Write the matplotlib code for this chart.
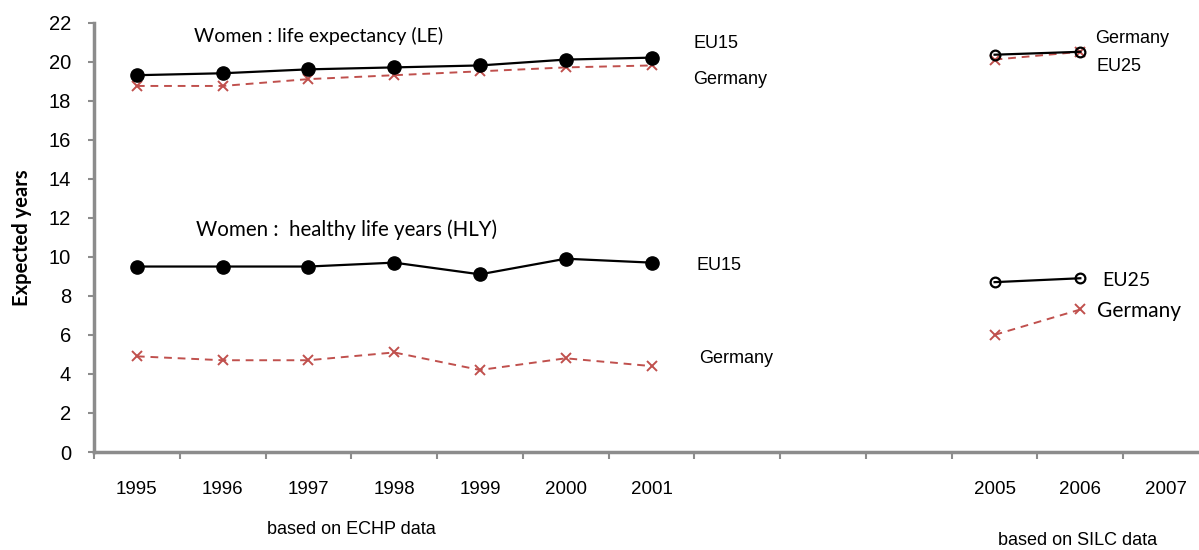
import numpy as np
import matplotlib
matplotlib.use("Agg")
import matplotlib.pyplot as plt
from matplotlib.ticker import FixedLocator

# ---- data ----
years = ['1995', '1996', '1997', '1998', '1999', '2000', '2001',
         '2002', '2003', '2004', '2005', '2006', '2007']
tick_labels = ['1995', '1996', '1997', '1998', '1999', '2000', '2001',
               '', '', '', '2005', '2006', '2007']

echp_years = ['1995', '1996', '1997', '1998', '1999', '2000', '2001']
silc_years = ['2005', '2006']

le_eu15 = [19.3, 19.4, 19.6, 19.7, 19.8, 20.1, 20.2]
le_germany = [18.75, 18.75, 19.1, 19.3, 19.5, 19.7, 19.8]
hly_eu15 = [9.5, 9.5, 9.5, 9.7, 9.1, 9.9, 9.7]
hly_germany = [4.9, 4.7, 4.7, 5.1, 4.2, 4.8, 4.4]

le_eu25 = [20.35, 20.5]
le_germany_silc = [20.1, 20.5]
hly_eu25 = [8.7, 8.9]
hly_germany_silc = [6.0, 7.3]

pos = {y: i for i, y in enumerate(years)}
x_echp = [pos[y] for y in echp_years]
x_silc = [pos[y] for y in silc_years]

RED = '#C0504D'
GREY = '#8C8C8C'
NARROW = ['Liberation Sans Narrow', 'Liberation Sans', 'DejaVu Sans']
CAL = ['Lato', 'DejaVu Sans']

fig = plt.figure(figsize=(11.99, 5.5), dpi=100)
ax = fig.add_axes([94 / 1199, 98 / 550, 1115 / 1199, 429.5 / 550])

# ECHP period
ax.plot(x_echp, le_eu15, color='black', lw=1.6, marker='o', ms=9.5, zorder=3)
ax.plot(x_echp, le_germany, color=RED, lw=1.4, ls=(0, (4, 3)), marker='x',
        ms=7, mew=1.4, zorder=2)
ax.plot(x_echp, hly_eu15, color='black', lw=1.6, marker='o', ms=9.5, zorder=3)
ax.plot(x_echp, hly_germany, color=RED, lw=1.4, ls=(0, (4, 3)), marker='x',
        ms=7, mew=1.4, zorder=2)

# SILC period
ax.plot(x_silc, le_germany_silc, color=RED, lw=1.4, ls=(0, (4, 3)), marker='x',
        ms=7, mew=1.4, zorder=2)
ax.plot(x_silc, le_eu25, color='black', lw=1.6, marker='o', ms=7, mfc='none',
        mew=1.6, zorder=3)
ax.plot(x_silc, hly_eu25, color='black', lw=1.6, marker='o', ms=7, mfc='none',
        mew=1.6, zorder=3)
ax.plot(x_silc, hly_germany_silc, color=RED, lw=1.4, ls=(0, (4, 3)), marker='x',
        ms=7, mew=1.4, zorder=2)

ax.set_xlim(-0.5, len(years) - 0.5)
ax.set_ylim(0, 22)
ax.set_yticks(np.arange(0, 23, 2))

ax.xaxis.set_major_locator(FixedLocator(range(len(years))))
ax.set_xticklabels(tick_labels)
ax.xaxis.set_minor_locator(FixedLocator(np.arange(-0.5, len(years), 1)))
ax.tick_params(axis='x', which='major', length=0, pad=21)
ax.tick_params(axis='x', which='minor', length=5, width=1.5, color=GREY,
               direction='out')
ax.tick_params(axis='y', length=4.5, width=1.5, color=GREY, pad=12)
for lab in ax.get_xticklabels():
    lab.set_family(NARROW)
    lab.set_fontsize(13.5)
for lab in ax.get_yticklabels():
    lab.set_family(NARROW)
    lab.set_fontsize(14.5)

for s in ['top', 'right']:
    ax.spines[s].set_visible(False)
for s in ['left', 'bottom']:
    ax.spines[s].set_color(GREY)
    ax.spines[s].set_linewidth(2.5)

ax.set_ylabel('Expected years', fontsize=14.5, fontweight='bold', family=CAL,
              labelpad=12)

# annotations
ax.text(0.67, 21.3, 'Women : life expectancy (LE)', fontsize=14, family=CAL,
        va='center')
ax.text(0.69, 11.4, 'Women :  healthy life years (HLY)', fontsize=14.8,
        family=CAL, va='center')
ax.text(6.49, 20.9, 'EU15', fontsize=13, family=NARROW, va='center')
ax.text(6.49, 19.1, 'Germany', fontsize=13, family=NARROW, va='center')
ax.text(6.52, 9.55, 'EU15', fontsize=13, family=NARROW, va='center')
ax.text(6.56, 4.8, 'Germany', fontsize=13, family=NARROW, va='center')
ax.text(11.17, 21.2, 'Germany', fontsize=13, family=NARROW, va='center')
ax.text(11.19, 19.75, 'EU25', fontsize=13, family=NARROW, va='center')
ax.text(11.25, 8.78, 'EU25', fontsize=14, family=CAL, va='center')
ax.text(11.19, 7.2, 'Germany', fontsize=15, family=CAL, va='center')

ax.text(2.5, -3.97, 'based on ECHP data', fontsize=13, family=NARROW,
        ha='center', va='center', clip_on=False)
ax.text(10.97, -4.54, 'based on SILC data', fontsize=13, family=NARROW,
        ha='center', va='center', clip_on=False)

fig.savefig('out.png', dpi=100)
